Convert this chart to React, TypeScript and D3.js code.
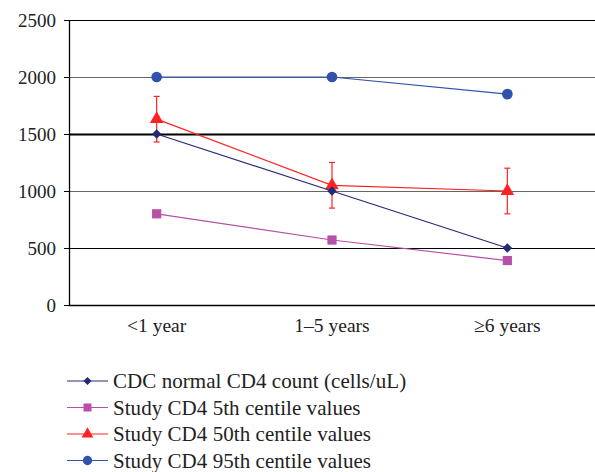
import React from 'react';
import * as d3 from 'd3';

const categories = ['<1 year', '1\u20135 years', '\u22656 years'];
const yTicks = [0, 500, 1000, 1500, 2000, 2500];

const cdcNormal = [1500, 1000, 500];
const centile5 = [800, 570, 390];
const centile50 = [1630, 1050, 1000];
const centile50Upper = [1830, 1250, 1200];
const centile50Lower = [1430, 850, 800];
const centile95 = [2000, 2000, 1850];

const seriesNames = [
  'CDC normal CD4 count (cells/uL)',
  'Study CD4 5th centile values',
  'Study CD4 50th centile values',
  'Study CD4 95th centile values',
];

const FONT = 'Liberation Serif';

const left = 69, right = 595, top = 20, bottom = 305;
const x = d3.scaleBand<string>().domain(categories).range([left, right]);
const y = d3.scaleLinear().domain([0, 2500]).range([bottom, top]);
const cx = (i: number) => (x(categories[i]) as number) + x.bandwidth() / 2;
const line = d3.line<number>().x((d, i) => cx(i)).y(d => y(d));

const colors = ['#252a78', '#b84fa8', '#ff2222', '#2f52ad'];
const data = [cdcNormal, centile5, centile50, centile95];
const symbols = [d3.symbolSquare, d3.symbolSquare, d3.symbolTriangle, d3.symbolCircle];
const sizes = [45, 85, 80, 90];
const rot = [45, 0, 0, 0];
const order = [1, 3, 2, 0];

export default function App() {
  const crisp = (v: number) => Math.round(y(v)) + 0.5;
  return (
    <svg width={595} height={472}
      style={{ position: 'absolute', left: 0, top: 0, background: '#fff', fontFamily: FONT }}>
      {/* grid */}
      {yTicks.filter(d => d > 0).map(d => (
        <line key={d} x1={left} x2={right} y1={crisp(d)} y2={crisp(d)}
          stroke={d === 1000 || d === 2000 ? '#666' : '#000'}
          strokeWidth={d === 1500 ? 2.2 : 1} />
      ))}
      {/* axes */}
      <line x1={left + 0.5} x2={left + 0.5} y1={crisp(2500)} y2={crisp(0)} stroke="#000" strokeWidth={1.3} />
      <line x1={left} x2={right} y1={crisp(0)} y2={crisp(0)} stroke="#000" strokeWidth={1.3} />
      {yTicks.map(d => (
        <g key={d}>
          <line x1={left - 5} x2={left} y1={crisp(d)} y2={crisp(d)} stroke="#000" />
          <text x={left - 13} y={crisp(d)} dy="0.35em" textAnchor="end"
            style={{ fontFamily: FONT, fontSize: '19px' }} fill="#222">{d}</text>
        </g>
      ))}
      {/* x labels */}
      {categories.map((c, i) => (
        <text key={c} x={cx(i)} y={bottom + 27} textAnchor="middle"
          style={{ fontFamily: FONT, fontSize: '19.5px' }} fill="#222">{c}</text>
      ))}
      {/* error bars */}
      <g stroke={colors[2]} strokeWidth={1.2}>
        {centile50.map((d, i) => (
          <g key={i}>
            <line x1={cx(i)} x2={cx(i)} y1={y(centile50Upper[i])} y2={y(centile50Lower[i])} />
            <line x1={cx(i) - 3} x2={cx(i) + 3} y1={y(centile50Upper[i])} y2={y(centile50Upper[i])} />
            <line x1={cx(i) - 3} x2={cx(i) + 3} y1={y(centile50Lower[i])} y2={y(centile50Lower[i])} />
          </g>
        ))}
      </g>
      {/* series */}
      {order.map(k => (
        <g key={k}>
          <path d={line(data[k]) as string} fill="none" stroke={colors[k]} strokeWidth={1.2} />
          {data[k].map((d, i) => (
            <path key={i} d={d3.symbol().type(symbols[k]).size(sizes[k])() as string}
              transform={`translate(${cx(i)},${y(d)}) rotate(${rot[k]})`} fill={colors[k]} />
          ))}
        </g>
      ))}
      {/* legend */}
      {seriesNames.map((name, k) => {
        const ly = 381 + k * 26.5;
        return (
          <g key={name}>
            <line x1={67} x2={108} y1={ly} y2={ly} stroke={colors[k]} strokeWidth={1.2} />
            <path d={d3.symbol().type(symbols[k]).size(sizes[k] * 0.75)() as string}
              transform={`translate(87.5,${ly}) rotate(${rot[k]})`} fill={colors[k]} />
            <text x={113} y={ly + 7}
              style={{ fontFamily: FONT, fontSize: '21px', letterSpacing: '0.05px' }} fill="#222">{name}</text>
          </g>
        );
      })}
    </svg>
  );
}
